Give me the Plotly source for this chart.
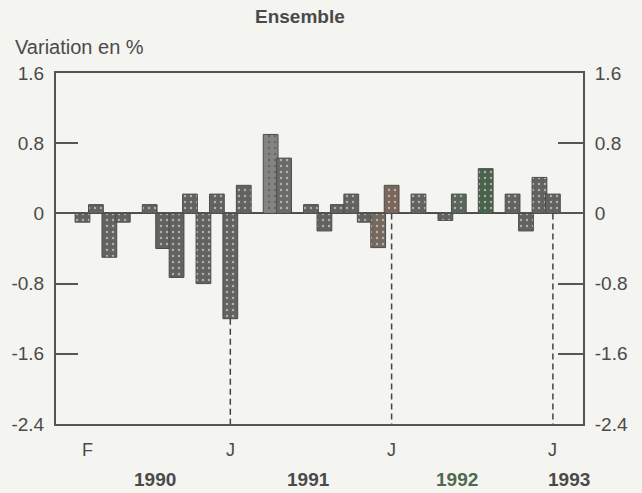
import plotly.graph_objects as go

# Monthly change (%), Feb 1990 .. Jan 1993
months = list(range(36))  # 0 = Feb 1990
values = [-0.1, 0.1, -0.5, -0.1, 0.0, 0.1, -0.4, -0.73, 0.22, -0.8, 0.22, -1.2,
          0.32, 0.0, 0.9, 0.63, 0.0, 0.1, -0.2, 0.1, 0.22, -0.1, -0.39, 0.32,
          0.0, 0.22, 0.0, -0.08, 0.22, 0.0, 0.51, 0.0, 0.22, -0.2, 0.41, 0.22]
bar_colors = ["#626260"] * 36
bar_colors[14] = "#848480"
bar_colors[15] = "#6a6a68"
bar_colors[22] = "#74685f"
bar_colors[23] = "#7a665a"
bar_colors[28] = "#5a665a"
bar_colors[30] = "#4a624b"

month_tick_pos = [0.4, 11, 23, 35]
month_tick_text = ["F", "J", "J", "J"]
year_pos = [5.4, 16.8, 27.9, 36.2]
year_text = ["1990", "1991", "1992", "1993"]
year_colors = ["#4a4a4a", "#4a4a4a", "#4f6a4f", "#4a4a4a"]
jan_idx = [11, 23, 35]

y_ticks = [1.6, 0.8, 0, -0.8, -1.6, -2.4]
y_tick_text = ["1.6", "0.8", "0", "-0.8", "-1.6", "-2.4"]

FONT = "Liberation Sans, Arial, sans-serif"
TXT = "#4a4a4a"
LINE = "#555555"
L, R, T, B = 56, 583, 73, 424

fig = go.Figure()
fig.add_trace(go.Bar(
    x=months, y=values, width=1.1,
    marker=dict(color=bar_colors, line=dict(color="#4c4c4c", width=1),
                pattern=dict(shape=".", fgcolor="#d0d0cc", size=6, solidity=0.12,
                             fillmode="overlay")),
    showlegend=False, hoverinfo="skip"))
fig.add_trace(go.Scatter(x=months[:1], y=values[:1], mode="none", yaxis="y2",
                         showlegend=False, hoverinfo="skip"))

for i in jan_idx:
    fig.add_shape(type="line", xref="x", yref="y", x0=months[i], x1=months[i],
                  y0=min(values[i], 0), y1=-2.4,
                  line=dict(color="#444444", width=1.5, dash="6px,4px"))

for p, t in zip(month_tick_pos, month_tick_text):
    fig.add_annotation(x=p, y=0, xref="x", yref="paper", text=t, showarrow=False,
                       yshift=-26, yanchor="middle",
                       font=dict(family=FONT, size=18, color=TXT))
for p, t, c in zip(year_pos, year_text, year_colors):
    fig.add_annotation(x=p, y=0, xref="x", yref="paper", text="<b>" + t + "</b>",
                       showarrow=False, yshift=-55, yanchor="middle",
                       font=dict(family=FONT, size=19, color=c))

fig.add_annotation(x=(300 - L) / (R - L), y=1 + (T - 17) / (B - T), xref="paper", yref="paper",
                   text="<b>Ensemble</b>", showarrow=False, xanchor="center", yanchor="middle",
                   font=dict(family=FONT, size=19, color=TXT))
fig.add_annotation(x=(13 - L) / (R - L), y=1 + (T - 47) / (B - T), xref="paper", yref="paper",
                   text="Variation en %", showarrow=False, xanchor="left", yanchor="middle",
                   font=dict(family=FONT, size=20, color=TXT))

yax = dict(range=[-2.4, 1.6], tickvals=y_ticks, ticktext=y_tick_text,
           ticks="inside", tickwidth=2, tickcolor=LINE, automargin=False,
           showgrid=False, showline=True, linecolor=LINE, linewidth=2,
           tickfont=dict(family=FONT, size=19, color=TXT), ticklabelstandoff=6)

fig.update_layout(
    width=642, height=493,
    margin=dict(l=L, r=642 - R, t=T, b=493 - B, autoexpand=False),
    paper_bgcolor="#f4f4f0", plot_bgcolor="#f4f4f0",
    bargap=0,
    xaxis=dict(range=[-1.97, 37.24], showgrid=False, zeroline=False, automargin=False,
               showticklabels=False, ticks="", showline=True, mirror=True,
               linecolor=LINE, linewidth=2),
    yaxis=dict(**yax, ticklen=22, zeroline=True, zerolinecolor=LINE, zerolinewidth=2, side="left"),
    yaxis2=dict(**yax, ticklen=25, overlaying="y", side="right", zeroline=False),
)

fig.write_html("out.html", config={"displayModeBar": False, "staticPlot": True},
               post_script="document.body.style.margin='0';document.body.style.overflow='hidden';")
